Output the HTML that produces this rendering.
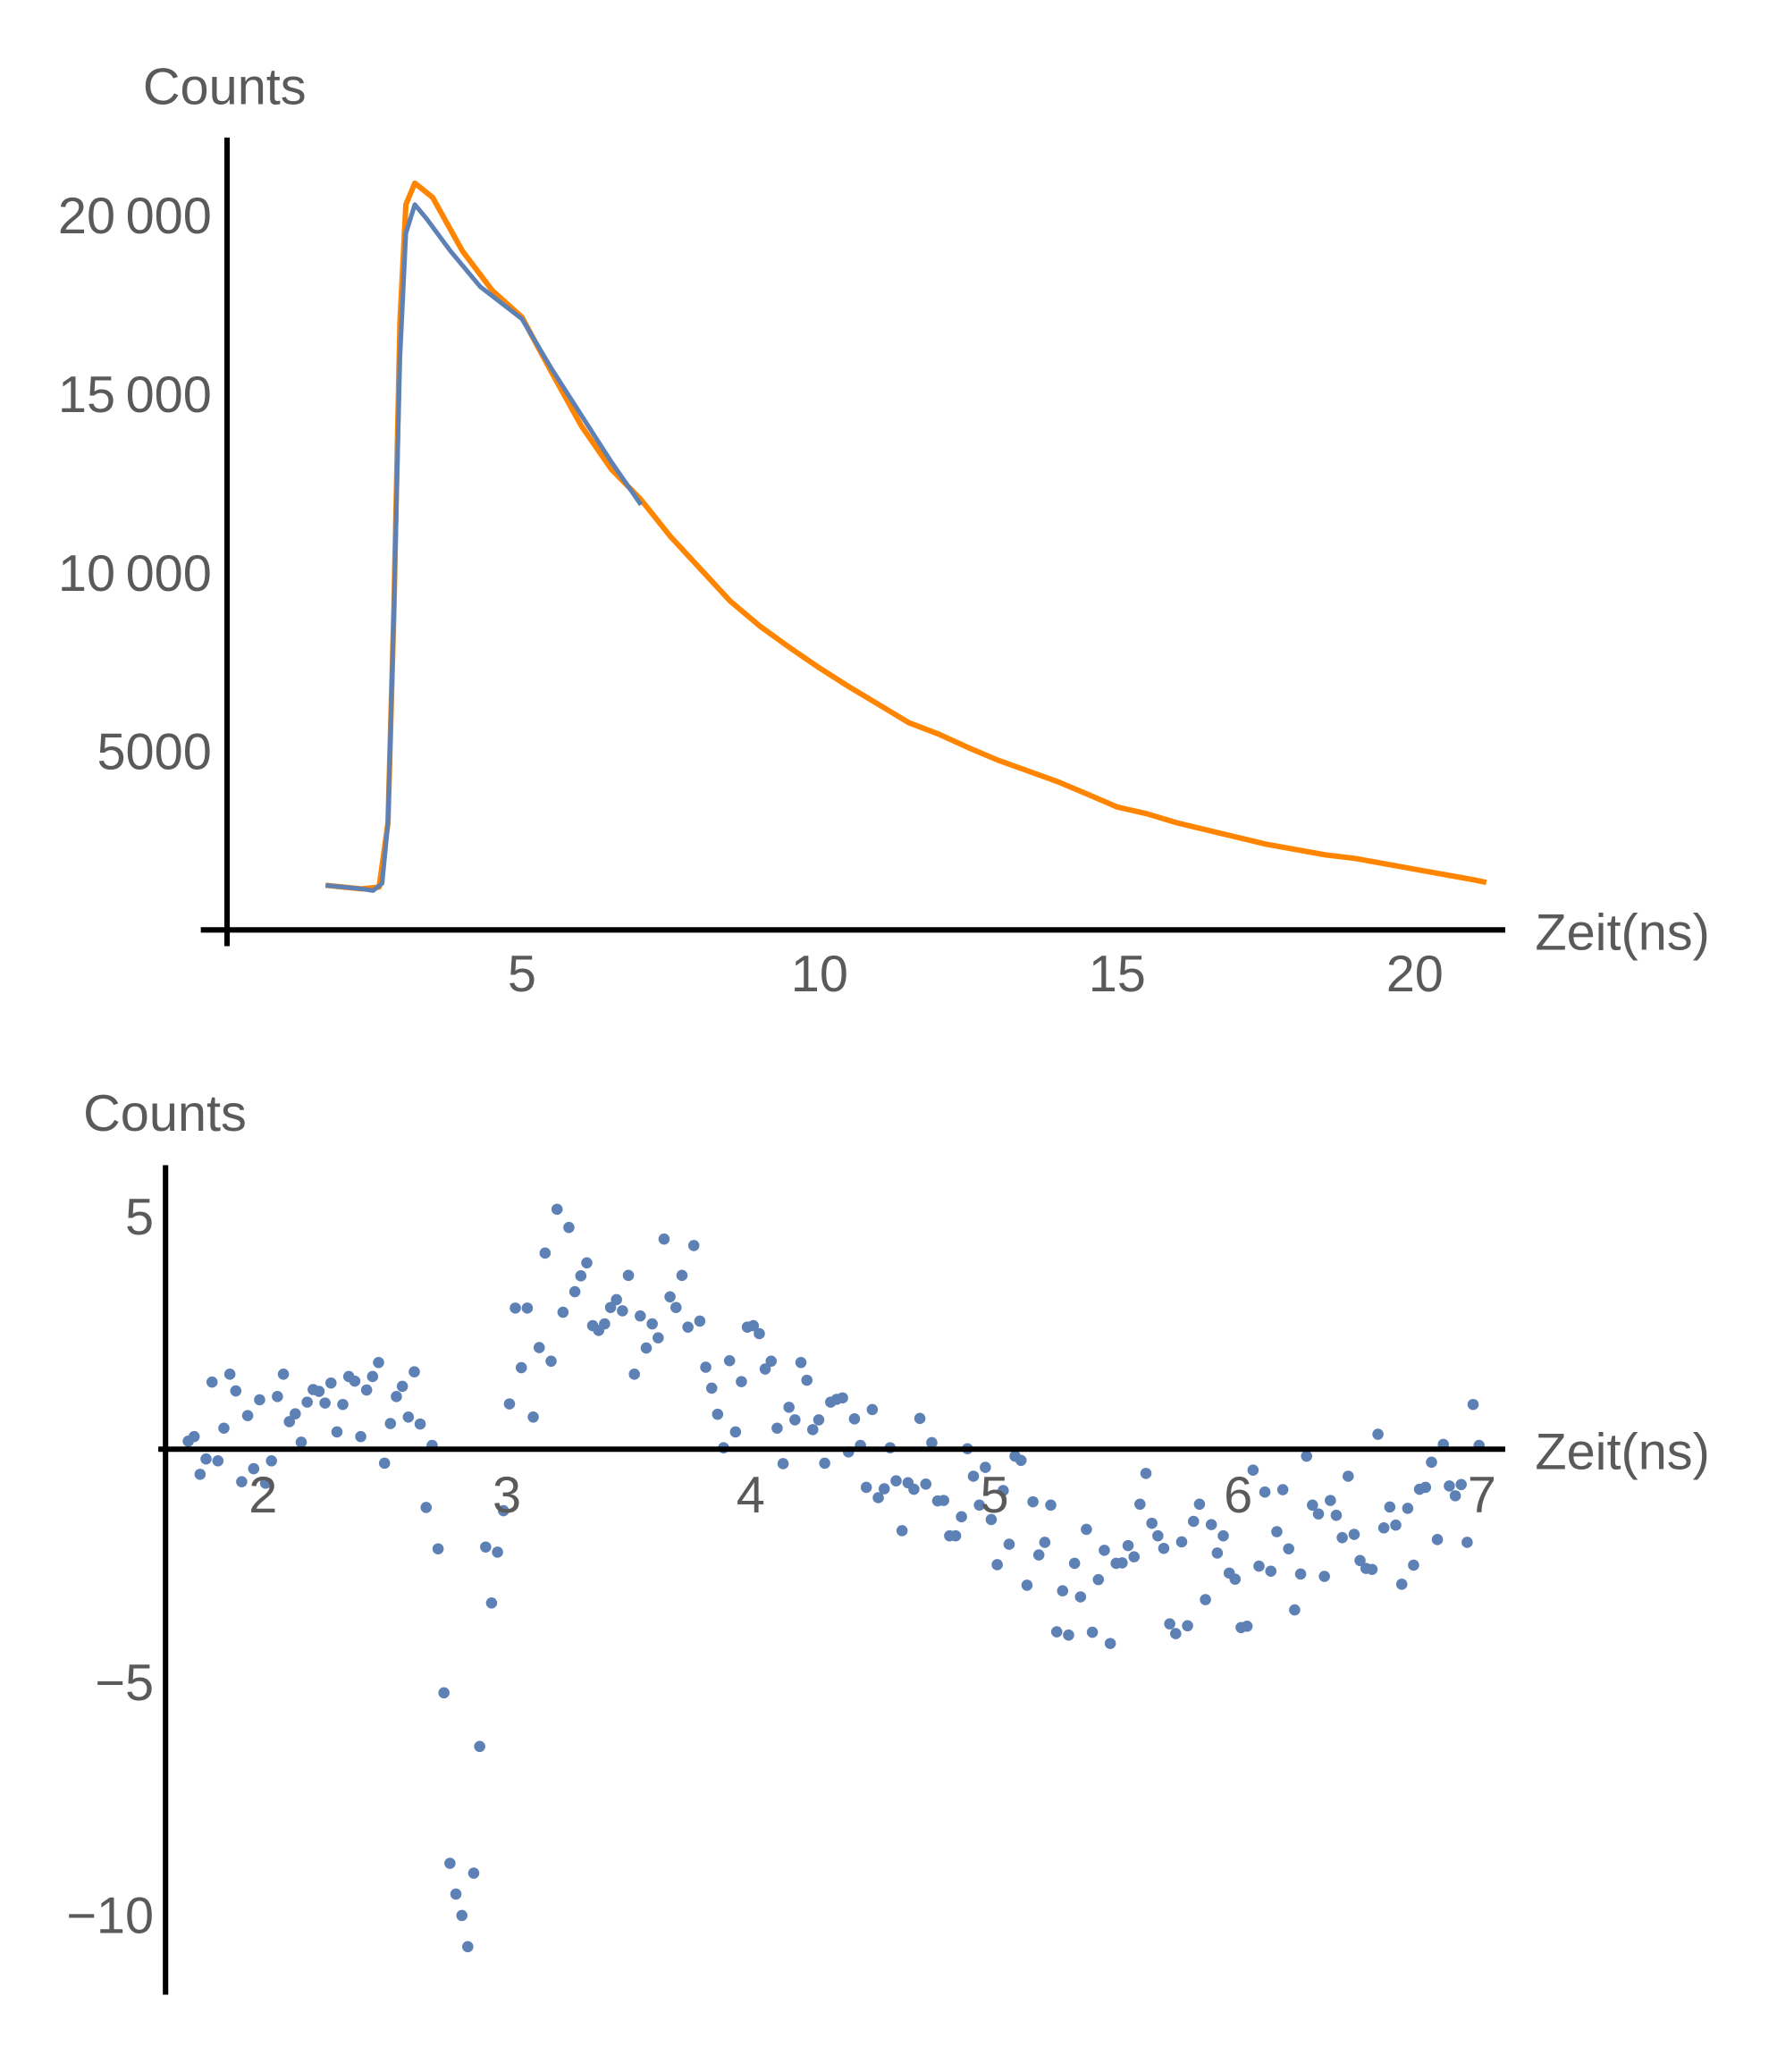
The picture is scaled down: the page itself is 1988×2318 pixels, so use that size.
<!DOCTYPE html>
<html><head><meta charset="utf-8"><style>
html,body{margin:0;padding:0;background:#fff;}
svg{display:block;}
text{font-family:"Liberation Sans",sans-serif;fill:#5a5a5a;font-size:57px;}
</style></head><body>
<svg id="chart" width="1988" height="2318" viewBox="0 0 1988 2318" xmlns="http://www.w3.org/2000/svg">
<g transform="scale(1.012)">
<g id="topPlot"></g>
<g id="botPlot"></g>
</g>
</svg>
<script>
// ---- Top chart data ----
const decayTimes = [1.7,2.0,2.3,2.6,2.75,2.85,2.95,3.05,3.2,3.5,4.0,4.5,5.0,5.5,6.0,6.5,7.0,7.5,8.0,8.5,9.0,9.5,10.0,10.5,11.0,11.5,12.0,12.5,13.0,13.5,14.0,14.5,15.0,15.5,16.0,16.5,17.0,17.5,18.0,18.5,19.0,19.5,20.0,20.5,21.0,21.2];
const decayCounts = [1250,1200,1150,1200,3000,9000,17000,20300,20900,20500,19000,17900,17150,15600,14100,12900,12040,11000,10100,9200,8500,7900,7330,6800,6300,5800,5480,5100,4750,4450,4150,3800,3440,3250,3000,2800,2600,2400,2250,2100,2000,1850,1700,1550,1400,1330];
const fitTimes = [1.7,2.0,2.3,2.5,2.65,2.75,2.85,2.95,3.05,3.2,3.4,3.8,4.3,5.0,5.5,6.0,6.5,7.0];
const fitCounts = [1250,1200,1150,1100,1300,3000,9000,16000,19500,20300,19900,19000,18000,17100,15700,14400,13100,11900];
const topXTicks = [5,10,15,20];
const topYTicks = [5000,10000,15000,20000];
const topYTickLabels = ["5000","10\u2009000","15\u2009000","20\u2009000"];

// ---- Bottom chart data ----
const residStart = 1.693, residEnd = 6.988;
const residuals = [0.17,0.27,-0.54,-0.21,1.44,-0.25,0.45,1.61,1.25,-0.70,0.72,-0.42,1.06,-0.73,-0.25,1.13,1.61,0.59,0.76,0.15,1.01,1.28,1.24,0.99,1.42,0.37,0.96,1.56,1.46,0.27,1.27,1.56,1.86,-0.30,0.55,1.13,1.35,0.69,1.66,0.54,-1.25,0.08,-2.14,-5.23,-8.89,-9.55,-10.01,-10.68,-9.10,-6.38,-2.10,-3.30,-2.21,-1.32,0.97,3.03,1.75,3.03,0.69,2.18,4.21,1.89,5.15,2.94,4.76,3.38,3.72,4.0,2.65,2.55,2.69,3.04,3.21,2.97,3.73,1.61,2.86,2.17,2.69,2.39,4.51,3.27,3.04,3.73,2.62,4.37,2.75,1.76,1.31,0.75,0.03,1.90,0.37,1.45,2.62,2.65,2.48,1.72,1.89,0.45,-0.31,0.90,0.63,1.86,1.48,0.42,0.63,-0.30,1.01,1.07,1.10,-0.06,0.65,0.08,-0.82,0.85,-1.04,-0.85,0.03,-0.68,-1.75,-0.72,-0.86,0.66,-0.75,0.14,-1.11,-1.10,-1.86,-1.86,-1.45,0.01,-0.58,-1.20,-0.39,-1.51,-2.48,-0.89,-2.04,-0.15,-0.24,-2.92,-1.13,-2.27,-2.0,-1.20,-3.92,-3.04,-3.99,-2.45,-3.17,-1.72,-3.93,-2.80,-2.17,-4.17,-2.45,-2.44,-2.07,-2.31,-1.18,-0.52,-1.59,-1.86,-2.13,-3.75,-3.96,-1.99,-3.79,-1.55,-1.18,-3.23,-1.62,-2.23,-1.86,-2.66,-2.79,-3.83,-3.80,-0.45,-2.51,-0.92,-2.62,-1.77,-0.87,-2.14,-3.45,-2.68,-0.15,-1.20,-1.39,-2.73,-1.10,-1.42,-1.90,-0.58,-1.83,-2.39,-2.56,-2.58,0.32,-1.69,-1.24,-1.63,-2.90,-1.27,-2.49,-0.86,-0.82,-0.28,-1.94,0.10,-0.79,-1.0,-0.76,-2.0,0.96,0.08];
const botXTicks = [2,3,4,5,6,7];
const botYTicks = [5,-5,-10];
const botYTickLabels = ["5","\u22125","\u221210"];

const NS = "http://www.w3.org/2000/svg";
function mk(tag, attrs, parent){const e=document.createElementNS(NS,tag);for(const k in attrs)e.setAttribute(k,attrs[k]);parent.appendChild(e);return e;}

// Top axes functions
const tx = t => 248 + t*65.8;
const ty = c => 1028 - c*(197.5/5000);
const topG = document.getElementById('topPlot');

let p = decayTimes.map((t,i)=>(i?'L':'M')+tx(t).toFixed(1)+' '+ty(decayCounts[i]).toFixed(1)).join(' ');
let el = mk('path',{d:p,fill:'none',stroke:'#FF8500','stroke-width':6,'stroke-linejoin':'round'},topG);


p = fitTimes.map((t,i)=>(i?'L':'M')+tx(t).toFixed(1)+' '+ty(fitCounts[i]).toFixed(1)).join(' ');
el = mk('path',{d:p,fill:'none',stroke:'#5E81B5','stroke-width':5,'stroke-linejoin':'round'},topG);



el = mk('line',{x1:222,y1:1028,x2:1664,y2:1028,stroke:'#000','stroke-width':6},topG);


el = mk('line',{x1:251,y1:152,x2:251,y2:1046,stroke:'#000','stroke-width':6},topG);


topXTicks.forEach(t=>{
  const e = mk('text',{x:tx(t),y:1096,'text-anchor':'middle'},topG); e.textContent=t;
  
  
});
topYTicks.forEach((c,i)=>{
  const e = mk('text',{x:234,y:ty(c)+20,'text-anchor':'end'},topG); e.textContent=topYTickLabels[i];
  
  
});
el = mk('text',{x:158,y:115},topG); el.textContent='Counts';


el = mk('text',{x:1697,y:1050},topG); el.textContent='Zeit(ns)';



// Bottom chart
const bx = t => 183 + (t-1.6)*269.5;
const by = v => 1602 - v*51.5;
const botG = document.getElementById('botPlot');
const n = residuals.length;
residuals.forEach((v,i)=>{
  const t = residStart + i*(residEnd-residStart)/(n-1);
  const c = mk('circle',{cx:bx(t).toFixed(1),cy:by(v).toFixed(1),r:6.2,fill:'#5E81B5'},botG);
  
  
});
el = mk('line',{x1:175,y1:1602,x2:1664,y2:1602,stroke:'#000','stroke-width':6},botG);


el = mk('line',{x1:183,y1:1288,x2:183,y2:2205,stroke:'#000','stroke-width':6},botG);


botXTicks.forEach(t=>{
  const e = mk('text',{x:bx(t),y:1672,'text-anchor':'middle'},botG); e.textContent=t;
  
  
});
botYTicks.forEach((v,i)=>{
  const e = mk('text',{x:170,y:by(v)+20,'text-anchor':'end'},botG); e.textContent=botYTickLabels[i];
  
  
});
el = mk('text',{x:92,y:1250},botG); el.textContent='Counts';


el = mk('text',{x:1697,y:1624},botG); el.textContent='Zeit(ns)';


</script>
</body></html>
